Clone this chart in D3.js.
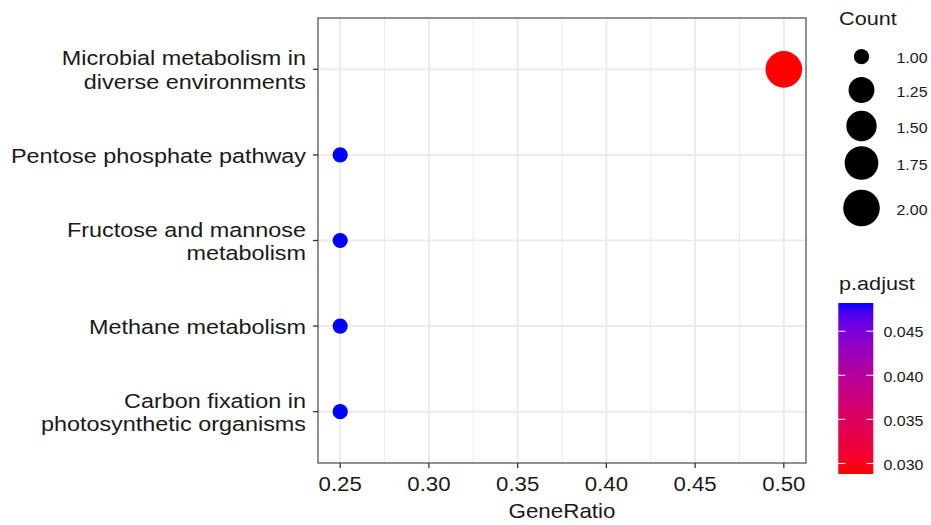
<!DOCTYPE html>
<html>
<head>
<meta charset="utf-8">
<script src="https://cdn.jsdelivr.net/npm/d3@7/dist/d3.min.js"></script>
<style>
  html, body { margin: 0; padding: 0; background: #fff; }
  svg { display: block; font-family: "Liberation Sans", Arial, sans-serif; }
</style>
</head>
<body>
<svg id="chart" width="931" height="525"></svg>
<script>
// KEGG enrichment dot plot
const pathways = [
  "Microbial metabolism in\ndiverse environments",
  "Pentose phosphate pathway",
  "Fructose and mannose\nmetabolism",
  "Methane metabolism",
  "Carbon fixation in\nphotosynthetic organisms"
];
const geneRatio = [0.50, 0.25, 0.25, 0.25, 0.25];
const counts = [2, 1, 1, 1, 1];
const pAdjust = [0.0288, 0.0482, 0.0482, 0.0482, 0.0482];

const xTicks = [0.25, 0.30, 0.35, 0.40, 0.45, 0.50];
const xMinor = [0.275, 0.325, 0.375, 0.425, 0.475];
const countLegend = [1.00, 1.25, 1.50, 1.75, 2.00];
const pTicks = [0.030, 0.035, 0.040, 0.045];

const svg = d3.select("#chart");
const panel = { left: 318, right: 806, top: 18, bottom: 463 };
const ink = "#1a1a1a";

function label(sel, x, y, str, size, anchor, sx) {
  return sel.append("text")
    .attr("transform", `translate(${x},${y}) scale(${sx || 1.14},1)`)
    .attr("font-size", size)
    .attr("fill", ink)
    .attr("text-anchor", anchor || "start")
    .attr("dominant-baseline", "central")
    .text(str);
}

// scales
const xExt = d3.extent(geneRatio);
const xPad = (xExt[1] - xExt[0]) * 0.05;
const x = d3.scaleLinear().domain([xExt[0] - xPad, xExt[1] + xPad]).range([panel.left, panel.right]);

const y = d3.scalePoint().domain(pathways.slice().reverse())
  .range([panel.bottom, panel.top]).padding(0.6);
const yPos = d => y(d);

const cExt = d3.extent(counts);
const cNorm = d3.scaleLinear().domain(cExt).range([0, 1]);
const rLin = d3.scaleLinear().domain([0, 1]).range([7.6, 18.3]);
const radius = c => rLin(Math.sqrt(cNorm(c)));

const pExt = d3.extent(pAdjust);
const color = d3.scaleLinear().domain(pExt).range(["red", "blue"]).interpolate(d3.interpolateLab);

// panel background and grid
const g = svg.append("g");
g.append("rect").attr("x", panel.left).attr("y", panel.top)
  .attr("width", panel.right - panel.left).attr("height", panel.bottom - panel.top)
  .attr("fill", "#fff");

g.selectAll(".minor").data(xMinor).join("line")
  .attr("x1", d => x(d)).attr("x2", d => x(d))
  .attr("y1", panel.top).attr("y2", panel.bottom)
  .attr("stroke", "#ebebeb").attr("stroke-width", 1);
g.selectAll(".majorx").data(xTicks).join("line")
  .attr("x1", d => x(d)).attr("x2", d => x(d))
  .attr("y1", panel.top).attr("y2", panel.bottom)
  .attr("stroke", "#ebebeb").attr("stroke-width", 2);
g.selectAll(".majory").data(pathways).join("line")
  .attr("x1", panel.left).attr("x2", panel.right)
  .attr("y1", d => yPos(d)).attr("y2", d => yPos(d))
  .attr("stroke", "#ebebeb").attr("stroke-width", 2);

// points
const rows = pathways.map((p, i) => ({ p, gr: geneRatio[i], c: counts[i], q: pAdjust[i] }));
g.selectAll(".dot").data(rows).join("circle")
  .attr("cx", d => x(d.gr)).attr("cy", d => yPos(d.p))
  .attr("r", d => radius(d.c))
  .attr("fill", d => color(d.q));

// panel border
g.append("rect").attr("x", panel.left).attr("y", panel.top)
  .attr("width", panel.right - panel.left).attr("height", panel.bottom - panel.top)
  .attr("fill", "none").attr("stroke", "#555").attr("stroke-width", 1.3);

// x axis
xTicks.forEach(t => {
  g.append("line").attr("x1", x(t)).attr("x2", x(t))
    .attr("y1", panel.bottom).attr("y2", panel.bottom + 5)
    .attr("stroke", "#333").attr("stroke-width", 1.3);
  label(g, x(t), 484.5, t.toFixed(2), 19.5, "middle", 1.14);
});
label(g, (panel.left + panel.right) / 2, 511, "GeneRatio", 20, "middle", 1.12);

// y axis
const lineH = 23.4;
pathways.forEach(p => {
  const yy = yPos(p);
  g.append("line").attr("x1", panel.left - 5).attr("x2", panel.left)
    .attr("y1", yy).attr("y2", yy).attr("stroke", "#333").attr("stroke-width", 1.3);
  const lines = p.split("\n");
  lines.forEach((ln, k) => {
    const off = (k - (lines.length - 1) / 2) * lineH;
    label(g, 306, yy + off + 1.5, ln, 19.5, "end", 1.2);
  });
});

// size legend
label(svg, 839, 18.8, "Count", 19, "start", 1.14);
const sizeY = [56.7, 90, 126, 163, 208];
countLegend.forEach((c, i) => {
  svg.append("circle").attr("cx", 861.5).attr("cy", sizeY[i]).attr("r", radius(c)).attr("fill", "#000");
  label(svg, 896.5, sizeY[i] + 1.5, c.toFixed(2), 14.5, "start", 1.1);
});

// colour legend
label(svg, 839, 283.5, "p.adjust", 19, "start", 1.14);
const bar = { x: 838.3, w: 35, top: 303, bottom: 474 };
const barScale = d3.scaleLinear().domain(pExt).range([bar.bottom, bar.top]);
const defs = svg.append("defs");
const grad = defs.append("linearGradient").attr("id", "pgrad")
  .attr("x1", 0).attr("y1", 1).attr("x2", 0).attr("y2", 0);
d3.range(0, 1.0001, 0.05).forEach(t => {
  grad.append("stop").attr("offset", t)
    .attr("stop-color", color(pExt[0] + t * (pExt[1] - pExt[0])));
});
svg.append("rect").attr("x", bar.x).attr("y", bar.top)
  .attr("width", bar.w).attr("height", bar.bottom - bar.top)
  .attr("fill", "url(#pgrad)");
pTicks.forEach(t => {
  const yy = barScale(t);
  svg.append("line").attr("x1", bar.x).attr("x2", bar.x + 7).attr("y1", yy).attr("y2", yy)
    .attr("stroke", "#fff").attr("stroke-width", 1);
  svg.append("line").attr("x1", bar.x + bar.w - 7).attr("x2", bar.x + bar.w).attr("y1", yy).attr("y2", yy)
    .attr("stroke", "#fff").attr("stroke-width", 1);
  label(svg, 883.5, yy + 1, t.toFixed(3), 14.5, "start", 1.1);
});
</script>
</body>
</html>
